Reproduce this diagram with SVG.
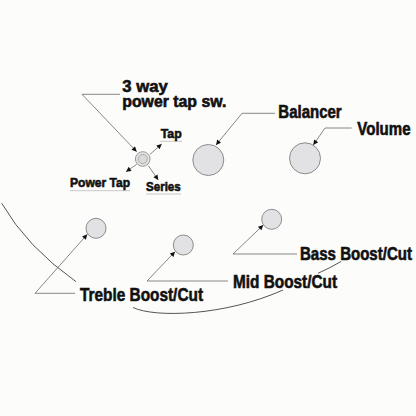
<svg xmlns="http://www.w3.org/2000/svg" width="416" height="416" viewBox="0 0 416 416">
<style>
.lbl{font-family:"Liberation Sans",Arial,sans-serif;font-weight:bold;fill:#111;stroke:#111;stroke-width:0.6}
.knob{fill:#e2e2e4;stroke:#8c8c8c;stroke-width:1}
.lead{fill:none;stroke:#6a6a6a;stroke-width:0.8}
.ul{fill:none;stroke:#c8c8c8;stroke-width:1}
.body{fill:none;stroke:#555;stroke-width:1}
</style>
<defs>
<marker id="ah" viewBox="0 0 10 10" refX="10" refY="5" markerWidth="7" markerHeight="5" markerUnits="userSpaceOnUse" orient="auto">
<path d="M0,0 L10,5 L0,10 Z" fill="#111"/>
</marker>
</defs>
<rect width="416" height="416" fill="#fcfcfb"/>

<g id="outline">
<path class="body" d="M1.7,203.3 Q27,247 76,281.7"/>
<path class="body" d="M133,307.5 C155,318 225,316 283,290"/>
<path class="body" d="M318,273.3 Q330,268 341,261.5"/>
</g>

<g id="connectors">
<path class="lead" d="M120,94.3 H82 L136.7,151.7" marker-end="url(#ah)"/>
<path class="lead" d="M150,154.3 L161.7,144" marker-end="url(#ah)"/>
<path class="lead" d="M136.7,164.3 L126,171.7" marker-end="url(#ah)"/>
<path class="lead" d="M148.3,165.7 L158.3,180" marker-end="url(#ah)"/>
<path class="lead" d="M275,113.3 H242 L216,145" marker-end="url(#ah)"/>
<path class="lead" d="M351.7,128 H325 L313.3,145" marker-end="url(#ah)"/>
<path class="lead" d="M75,293.3 H35 L87.3,234.3" marker-end="url(#ah)"/>
<path class="lead" d="M228,281 H147 L175,251.7" marker-end="url(#ah)"/>
<path class="lead" d="M297,254 H233 L263.3,225" marker-end="url(#ah)"/>
<line class="ul" x1="160" y1="141.3" x2="182" y2="141.3"/>
<line class="ul" x1="70" y1="190.7" x2="130" y2="190.7"/>
<line class="ul" x1="146" y1="194" x2="181" y2="194"/>
</g>

<g id="switch">
<circle cx="142.7" cy="159" r="7.3" fill="#e4e4e4" stroke="#999" stroke-width="1"/>
<circle cx="142.7" cy="159" r="4.6" fill="#dadada" stroke="#a0a0a0" stroke-width="0.8"/>
<text class="lbl" font-size="16"><tspan x="122.3" y="92.3" textLength="45.4" lengthAdjust="spacingAndGlyphs">3 way</tspan><tspan x="122.3" y="106.5" textLength="104" lengthAdjust="spacingAndGlyphs">power tap sw.</tspan></text>
</g>
<g id="tap"><text class="lbl" x="160.7" y="138.3" font-size="13.5" textLength="21" lengthAdjust="spacingAndGlyphs">Tap</text></g>
<g id="powertap"><text class="lbl" x="70" y="186.7" font-size="13" textLength="60" lengthAdjust="spacingAndGlyphs">Power Tap</text></g>
<g id="series"><text class="lbl" x="146" y="190.7" font-size="13" textLength="34.7" lengthAdjust="spacingAndGlyphs">Series</text></g>

<g id="balancer">
<circle class="knob" cx="208.3" cy="160" r="15.5"/>
<text class="lbl" x="278.3" y="118.3" font-size="18" textLength="63.4" lengthAdjust="spacingAndGlyphs">Balancer</text>
</g>
<g id="volume">
<circle class="knob" cx="305" cy="158.3" r="15.5"/>
<text class="lbl" transform="translate(357.3,135) scale(0.837,1)" font-size="18">Volume</text>
</g>
<g id="treble">
<circle class="knob" cx="96" cy="228.3" r="10"/>
<text class="lbl" x="80" y="301" font-size="19" textLength="123" lengthAdjust="spacingAndGlyphs">Treble Boost/Cut</text>
</g>
<g id="mid">
<circle class="knob" cx="183.3" cy="245" r="10"/>
<text class="lbl" x="233" y="288.3" font-size="18.5" textLength="104" lengthAdjust="spacingAndGlyphs">Mid Boost/Cut</text>
</g>
<g id="bass">
<circle class="knob" cx="271.7" cy="219.3" r="10"/>
<text class="lbl" transform="translate(300,260) scale(0.836,1)" font-size="18">Bass Boost/Cut</text>
</g>
</svg>
